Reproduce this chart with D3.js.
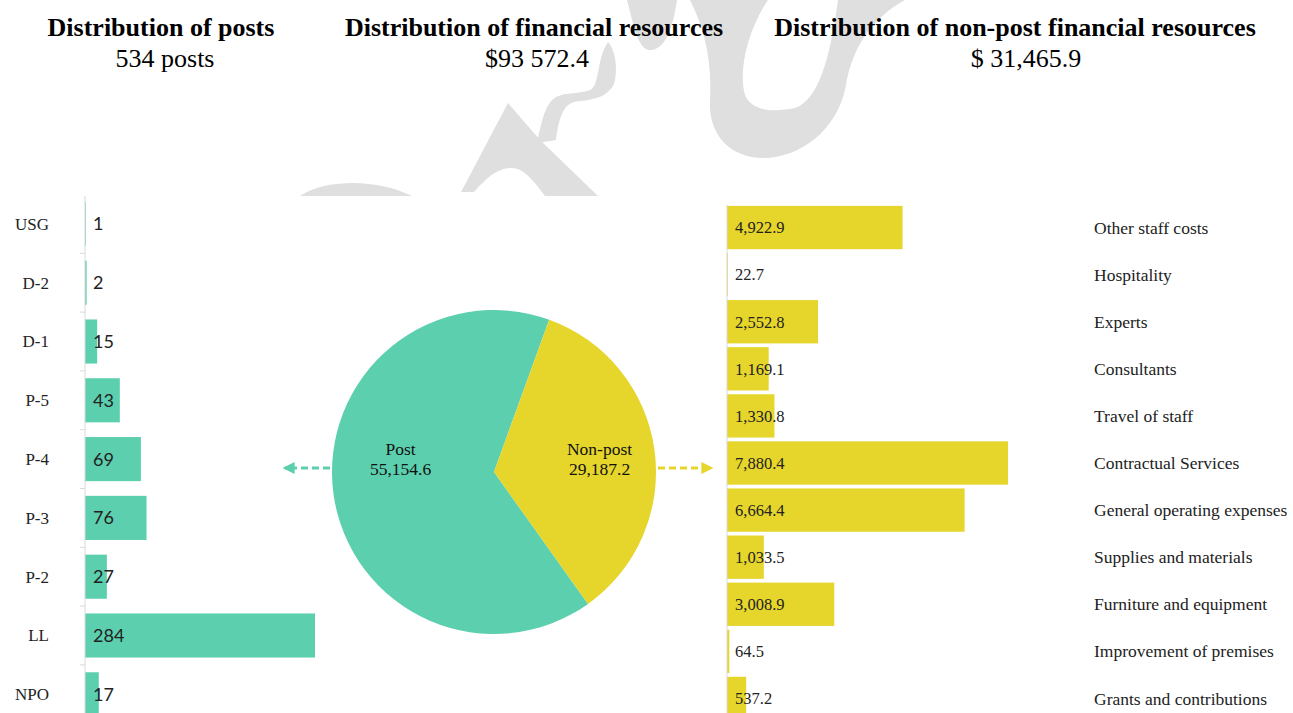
<!DOCTYPE html>
<html>
<head>
<meta charset="utf-8">
<script src="https://cdn.jsdelivr.net/npm/d3@7"></script>
<style>
  body { margin: 0; background: #fff; }
  svg { display: block; }
</style>
</head>
<body>
<div id="chart"></div>
<script>
/**
 * DATA
 * */
const grades = ["USG", "D-2", "D-1", "P-5", "P-4", "P-3", "P-2", "LL", "NPO"];
const postCounts = [1, 2, 15, 43, 69, 76, 27, 284, 17];

const resourceTypes = ["Post", "Non-post"];
const resourceValues = [55154.6, 29187.2];

const objectClasses = ["Other staff costs", "Hospitality", "Experts", "Consultants",
  "Travel of staff", "Contractual Services", "General operating expenses",
  "Supplies and materials", "Furniture and equipment", "Improvement of premises",
  "Grants and contributions"];
const objectValues = [4922.9, 22.7, 2552.8, 1169.1, 1330.8, 7880.4, 6664.4,
  1033.5, 3008.9, 64.5, 537.2];

const panelTitles = ["Distribution of posts", "Distribution of financial resources",
  "Distribution of non-post financial resources"];
const panelSubtitles = [d3.sum(postCounts) + " posts", "$93 572.4", "$ 31,465.9"];

/**
 * CONSTANTS
 * */
const width = 1293,
  height = 713;
const teal = "#5ccfae",
  yellow = "#e6d52b",
  axisGrey = "#d9d9d9",
  serif = "'Liberation Serif', 'Times New Roman', serif";

const svg = d3.select("#chart")
  .append("svg")
  .attr("width", width)
  .attr("height", height);

/*** watermark (decoration behind the charts) ***/
const wm = svg.append("g").attr("fill", "#dfdfdf");
wm.append("path").attr("d", "M300,196 C315,186 335,183 352,183 C375,183 395,188 412,196 Z");
wm.append("path").attr("d", "M461,192 L508,103 L540,140 L598,196 L545,196 C532,178 522,168 512,168 C500,168 490,174 474,192 Z");
// hook
wm.append("path").attr("d", "M537,143 C542,120 545,104 556,97 C566,92 580,94 590,90 C600,86 596,60 608,42 C616,50 618,72 614,84 C608,96 595,100 580,101 C566,102 560,110 556,140 Z");
// stroke end at the top
wm.append("path").attr("d", "M627,0 L677,0 C674,20 668,48 652,50 C638,52 634,26 627,0 Z");
// big loop
wm.append("path").attr("d", "M690,0 L768,0 C748,30 738,70 745,95 C752,112 775,112 795,108 C818,100 830,60 838,0 L905,0 C872,18 852,48 846,85 C838,130 800,158 763,158 C730,158 708,135 710,100 C712,60 705,30 690,0 Z");

/*** titles ***/
const titleX = [161, 534, 1015];
const subX = [165, 537, 1026];
svg.selectAll("text.title")
  .data(panelTitles)
  .join("text")
  .attr("class", "title")
  .attr("x", (d, i) => titleX[i])
  .attr("y", 36)
  .attr("text-anchor", "middle")
  .attr("font-family", serif)
  .attr("font-weight", "bold")
  .attr("font-size", 26)
  .text(d => d);

svg.selectAll("text.subtitle")
  .data(panelSubtitles)
  .join("text")
  .attr("class", "subtitle")
  .attr("x", (d, i) => subX[i])
  .attr("y", 67)
  .attr("text-anchor", "middle")
  .attr("font-family", serif)
  .attr("font-size", 26)
  .text(d => d);

/***********************/
/*** LEFT: POSTS BAR ***/
/***********************/
const postData = grades.map((g, i) => ({ grade: g, value: postCounts[i] }));

const yPost = d3.scaleBand()
  .domain(grades)
  .range([194.5, 723.7])
  .paddingInner(0.25)
  .paddingOuter(0.125);

const xPost = d3.scaleLinear()
  .domain([0, d3.max(postCounts)])
  .range([85, 315]);

const left = svg.append("g");

left.selectAll("rect.bar")
  .data(postData)
  .join("rect")
  .attr("class", "bar")
  .attr("x", xPost(0))
  .attr("y", d => yPost(d.grade))
  .attr("width", d => xPost(d.value) - xPost(0))
  .attr("height", yPost.bandwidth())
  .attr("fill", teal);

// axis line + ticks between categories
left.append("line")
  .attr("x1", xPost(0)).attr("x2", xPost(0))
  .attr("y1", 196).attr("y2", height)
  .attr("stroke", axisGrey);

left.selectAll("line.tick")
  .data(grades.slice(1))
  .join("line")
  .attr("class", "tick")
  .attr("x1", xPost(0) - 5).attr("x2", xPost(0))
  .attr("y1", d => yPost(d) - yPost.step() * yPost.paddingInner() / 2)
  .attr("y2", d => yPost(d) - yPost.step() * yPost.paddingInner() / 2)
  .attr("stroke", axisGrey);

left.selectAll("text.cat")
  .data(postData)
  .join("text")
  .attr("class", "cat")
  .attr("x", 49)
  .attr("y", d => yPost(d.grade) + yPost.bandwidth() / 2)
  .attr("dy", "0.35em")
  .attr("text-anchor", "end")
  .attr("font-family", serif)
  .attr("font-size", 17)
  .attr("fill", "#222")
  .text(d => d.grade);

left.selectAll("text.val")
  .data(postData)
  .join("text")
  .attr("class", "val")
  .attr("x", xPost(0) + 8)
  .attr("y", d => yPost(d.grade) + yPost.bandwidth() / 2)
  .attr("dy", "0.36em")
  .attr("font-family", "Lato, 'Open Sans', sans-serif")
  .attr("font-size", 18)
  .attr("fill", "#222")
  .text(d => d.value);

/******************/
/*** CENTER PIE ***/
/******************/
const cx = 494, cy = 472, radius = 162;
const pieData = resourceTypes.map((t, i) => ({ type: t, value: resourceValues[i] }));
const startA = 144.5 * Math.PI / 180;

const pie = d3.pie()
  .sort(null)
  .value(d => d.value)
  .startAngle(startA)
  .endAngle(startA + 2 * Math.PI);
const arcGen = d3.arc().innerRadius(0).outerRadius(radius);
const pieColor = d3.scaleOrdinal().domain(resourceTypes).range([teal, yellow]);

const center = svg.append("g").attr("transform", `translate(${cx},${cy})`);

const slices = pie(pieData);
center.selectAll("path.slice")
  .data(slices)
  .join("path")
  .attr("class", "slice")
  .attr("d", arcGen)
  .attr("fill", d => pieColor(d.data.type));

const labelX = d => Math.sin((d.startAngle + d.endAngle) / 2) * radius * 0.62 + 6;
const sliceLabels = center.selectAll("text.plabel")
  .data(slices)
  .join("text")
  .attr("class", "plabel")
  .attr("x", labelX)
  .attr("y", -17)
  .attr("text-anchor", "middle")
  .attr("font-family", serif)
  .attr("font-size", 17.5)
  .attr("fill", "#111");
sliceLabels.append("tspan").text(d => d.data.type);
sliceLabels.append("tspan")
  .attr("x", labelX)
  .attr("dy", 19.5)
  .text(d => d3.format(",.1f")(d.value));

// dashed arrows out of the pie
const defs = svg.append("defs");
[["tealHead", teal], ["yellowHead", yellow]].forEach(([id, c]) => {
  defs.append("marker")
    .attr("id", id)
    .attr("viewBox", "0 0 10 10")
    .attr("refX", 8).attr("refY", 5)
    .attr("markerWidth", 4).attr("markerHeight", 4)
    .attr("orient", "auto")
    .append("path")
    .attr("d", "M0,0 L10,5 L0,10 Z")
    .attr("fill", c);
});

svg.append("line")
  .attr("x1", cx - radius - 2).attr("x2", 285)
  .attr("y1", 468).attr("y2", 468)
  .attr("stroke", teal)
  .attr("stroke-width", 3)
  .attr("stroke-dasharray", "7,4")
  .attr("marker-end", "url(#tealHead)");

svg.append("line")
  .attr("x1", cx + radius + 2).attr("x2", 711)
  .attr("y1", 468).attr("y2", 468)
  .attr("stroke", yellow)
  .attr("stroke-width", 3)
  .attr("stroke-dasharray", "7,4")
  .attr("marker-end", "url(#yellowHead)");

/*****************************/
/*** RIGHT: NON-POST BARS ***/
/*****************************/
const objData = objectClasses.map((c, i) => ({ cls: c, value: objectValues[i] }));

const yObj = d3.scaleBand()
  .domain(objectClasses)
  .range([204, 722])
  .paddingInner(0.08)
  .paddingOuter(0.04);

const xObj = d3.scaleLinear()
  .domain([0, d3.max(objectValues)])
  .range([727, 1008]);

const right = svg.append("g");

right.selectAll("rect.bar")
  .data(objData)
  .join("rect")
  .attr("class", "bar")
  .attr("x", xObj(0))
  .attr("y", d => yObj(d.cls))
  .attr("width", d => xObj(d.value) - xObj(0))
  .attr("height", yObj.bandwidth())
  .attr("fill", yellow);

right.append("line")
  .attr("x1", xObj(0)).attr("x2", xObj(0))
  .attr("y1", 205).attr("y2", height)
  .attr("stroke", axisGrey);

right.selectAll("text.val")
  .data(objData)
  .join("text")
  .attr("class", "val")
  .attr("x", xObj(0) + 8)
  .attr("y", d => yObj(d.cls) + yObj.bandwidth() / 2)
  .attr("dy", "0.35em")
  .attr("font-family", serif)
  .attr("font-size", 16.5)
  .attr("fill", "#222")
  .text(d => d3.format(",.1f")(d.value));

right.selectAll("text.cat")
  .data(objData)
  .join("text")
  .attr("class", "cat")
  .attr("x", 1094)
  .attr("y", d => yObj(d.cls) + yObj.bandwidth() / 2)
  .attr("dy", "0.35em")
  .attr("font-family", serif)
  .attr("font-size", 17.5)
  .attr("fill", "#222")
  .text(d => d.cls);
</script>
</body>
</html>
